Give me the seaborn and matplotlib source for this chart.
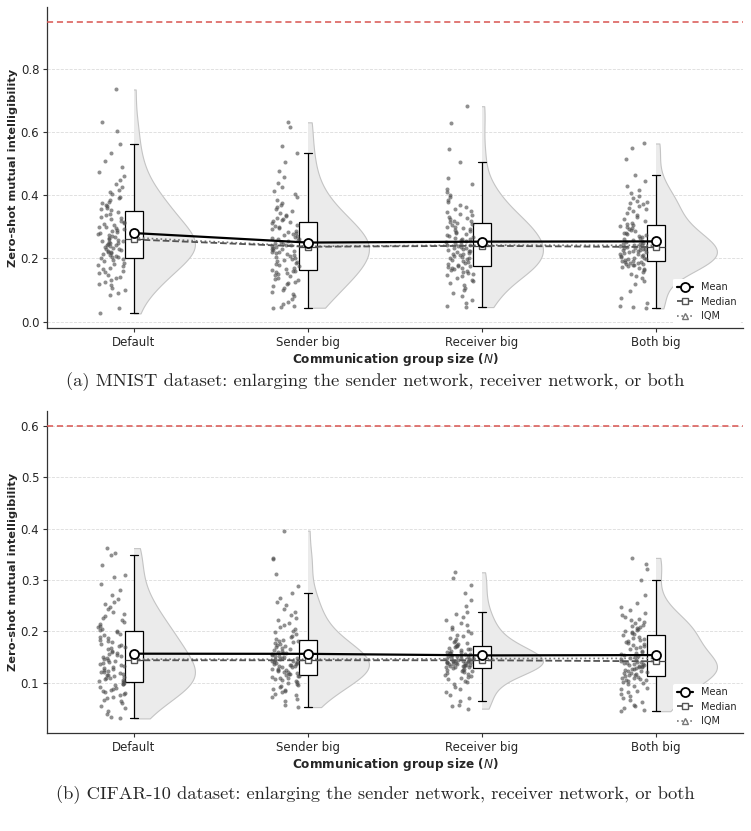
import numpy as np
import pandas as pd
import matplotlib
matplotlib.use("Agg")
import matplotlib.pyplot as plt
from matplotlib.lines import Line2D
from matplotlib.patches import Rectangle
import seaborn as sns

groups = ["Default", "Sender big", "Receiver big", "Both big"]

# MNIST (sorted estimates)
mnist_default = [0.026, 0.042, 0.083, 0.092, 0.101, 0.108, 0.115, 0.118, 0.124, 0.131, 0.137, 0.142, 0.148,
                 0.153, 0.157, 0.161, 0.166, 0.171, 0.175, 0.179, 0.183, 0.187, 0.191, 0.195, 0.199,
                 0.201, 0.204, 0.206, 0.209, 0.212, 0.214, 0.217, 0.219, 0.222, 0.224, 0.226, 0.229, 0.231,
                 0.234, 0.236, 0.238, 0.241, 0.243, 0.245, 0.248, 0.250, 0.252, 0.254, 0.256, 0.258,
                 0.262, 0.265, 0.268, 0.271, 0.274, 0.277, 0.280, 0.283, 0.286, 0.289, 0.292, 0.295, 0.298,
                 0.301, 0.305, 0.309, 0.312, 0.316, 0.320, 0.324, 0.328, 0.332, 0.337, 0.342, 0.348,
                 0.352, 0.356, 0.361, 0.365, 0.370, 0.374, 0.379, 0.384, 0.390, 0.396, 0.403, 0.410, 0.418,
                 0.427, 0.437, 0.448, 0.460, 0.474, 0.490, 0.510, 0.535, 0.561, 0.603, 0.632, 0.735]
mnist_sender = [0.044, 0.047, 0.050, 0.055, 0.062, 0.071, 0.080, 0.088, 0.095, 0.101, 0.107, 0.112, 0.118,
                0.123, 0.127, 0.131, 0.135, 0.139, 0.143, 0.147, 0.150, 0.153, 0.156, 0.159, 0.161,
                0.163, 0.167, 0.171, 0.175, 0.179, 0.182, 0.186, 0.189, 0.192, 0.196, 0.199, 0.202, 0.205,
                0.208, 0.211, 0.214, 0.217, 0.220, 0.222, 0.225, 0.227, 0.229, 0.231, 0.233, 0.235,
                0.239, 0.241, 0.244, 0.246, 0.249, 0.251, 0.254, 0.257, 0.260, 0.263, 0.266, 0.269, 0.272,
                0.275, 0.278, 0.281, 0.285, 0.288, 0.292, 0.295, 0.299, 0.303, 0.307, 0.311, 0.315,
                0.317, 0.321, 0.325, 0.329, 0.334, 0.339, 0.344, 0.350, 0.356, 0.362, 0.369, 0.376, 0.384,
                0.393, 0.403, 0.414, 0.426, 0.440, 0.458, 0.478, 0.505, 0.533, 0.557, 0.617, 0.631]
mnist_receiver = [0.046, 0.050, 0.058, 0.069, 0.080, 0.091, 0.100, 0.108, 0.115, 0.122, 0.128, 0.133, 0.138,
                  0.143, 0.147, 0.151, 0.155, 0.158, 0.161, 0.164, 0.167, 0.169, 0.171, 0.173, 0.175,
                  0.177, 0.180, 0.183, 0.186, 0.189, 0.192, 0.195, 0.197, 0.200, 0.203, 0.205, 0.208, 0.210,
                  0.213, 0.215, 0.218, 0.220, 0.223, 0.225, 0.227, 0.230, 0.232, 0.234, 0.236, 0.238,
                  0.242, 0.244, 0.247, 0.249, 0.252, 0.254, 0.257, 0.260, 0.262, 0.265, 0.268, 0.271, 0.274,
                  0.277, 0.280, 0.283, 0.286, 0.289, 0.292, 0.295, 0.298, 0.301, 0.305, 0.308, 0.312,
                  0.314, 0.317, 0.320, 0.324, 0.328, 0.332, 0.336, 0.341, 0.346, 0.351, 0.357, 0.363, 0.370,
                  0.378, 0.386, 0.395, 0.400, 0.410, 0.420, 0.435, 0.455, 0.505, 0.547, 0.629, 0.682]
mnist_both = [0.042, 0.045, 0.050, 0.058, 0.075, 0.098, 0.118, 0.130, 0.139, 0.146, 0.152, 0.157, 0.162,
              0.166, 0.170, 0.173, 0.176, 0.178, 0.180, 0.182, 0.184, 0.186, 0.187, 0.188, 0.189,
              0.191, 0.193, 0.195, 0.197, 0.199, 0.201, 0.203, 0.205, 0.207, 0.209, 0.211, 0.213, 0.215,
              0.217, 0.219, 0.221, 0.223, 0.225, 0.226, 0.228, 0.229, 0.231, 0.232, 0.234, 0.235,
              0.237, 0.239, 0.241, 0.243, 0.245, 0.247, 0.250, 0.252, 0.255, 0.258, 0.261, 0.264, 0.267,
              0.270, 0.273, 0.276, 0.279, 0.282, 0.286, 0.289, 0.292, 0.295, 0.299, 0.302, 0.306,
              0.308, 0.312, 0.318, 0.324, 0.331, 0.338, 0.344, 0.350, 0.356, 0.361, 0.366, 0.371, 0.377,
              0.379, 0.383, 0.390, 0.398, 0.407, 0.418, 0.430, 0.445, 0.463, 0.516, 0.551, 0.564]

# CIFAR-10
cifar_default = [0.031, 0.034, 0.040, 0.046, 0.052, 0.056, 0.060, 0.064, 0.067, 0.070, 0.073, 0.076, 0.079,
                 0.081, 0.083, 0.085, 0.087, 0.089, 0.091, 0.093, 0.095, 0.097, 0.098, 0.100, 0.101,
                 0.103, 0.104, 0.106, 0.107, 0.109, 0.110, 0.112, 0.113, 0.115, 0.116, 0.118, 0.119, 0.121,
                 0.122, 0.124, 0.126, 0.127, 0.129, 0.131, 0.133, 0.135, 0.137, 0.139, 0.141, 0.143,
                 0.145, 0.147, 0.149, 0.151, 0.153, 0.155, 0.157, 0.159, 0.161, 0.163, 0.165, 0.167, 0.169,
                 0.171, 0.174, 0.176, 0.179, 0.181, 0.184, 0.187, 0.190, 0.193, 0.195, 0.198, 0.201,
                 0.203, 0.205, 0.208, 0.211, 0.214, 0.218, 0.222, 0.226, 0.230, 0.234, 0.238, 0.243, 0.248,
                 0.253, 0.258, 0.264, 0.270, 0.280, 0.292, 0.305, 0.310, 0.330, 0.348, 0.352, 0.362]
cifar_sender = [0.053, 0.058, 0.064, 0.068, 0.072, 0.076, 0.079, 0.082, 0.085, 0.087, 0.089, 0.092, 0.094,
                0.096, 0.098, 0.100, 0.102, 0.104, 0.106, 0.107, 0.109, 0.110, 0.112, 0.113, 0.114,
                0.116, 0.117, 0.118, 0.120, 0.121, 0.122, 0.123, 0.125, 0.126, 0.127, 0.128, 0.130, 0.131,
                0.132, 0.133, 0.134, 0.135, 0.136, 0.137, 0.138, 0.139, 0.140, 0.141, 0.142, 0.143,
                0.145, 0.146, 0.147, 0.148, 0.149, 0.151, 0.152, 0.153, 0.155, 0.156, 0.158, 0.159, 0.161,
                0.162, 0.164, 0.166, 0.167, 0.169, 0.171, 0.173, 0.175, 0.177, 0.179, 0.181, 0.182,
                0.184, 0.186, 0.189, 0.192, 0.195, 0.198, 0.201, 0.205, 0.209, 0.213, 0.217, 0.222, 0.227,
                0.232, 0.238, 0.244, 0.251, 0.258, 0.266, 0.274, 0.288, 0.312, 0.341, 0.343, 0.396]
cifar_receiver = [0.050, 0.055, 0.058, 0.064, 0.070, 0.077, 0.083, 0.088, 0.093, 0.097, 0.101, 0.104, 0.107,
                  0.110, 0.112, 0.114, 0.116, 0.118, 0.120, 0.121, 0.123, 0.124, 0.125, 0.126, 0.127,
                  0.129, 0.130, 0.130, 0.131, 0.132, 0.133, 0.133, 0.134, 0.135, 0.135, 0.136, 0.137, 0.137,
                  0.138, 0.139, 0.139, 0.140, 0.140, 0.141, 0.141, 0.142, 0.142, 0.143, 0.143, 0.143,
                  0.145, 0.146, 0.147, 0.148, 0.149, 0.150, 0.151, 0.152, 0.153, 0.154, 0.155, 0.156, 0.157,
                  0.158, 0.159, 0.160, 0.161, 0.162, 0.164, 0.165, 0.166, 0.168, 0.169, 0.171, 0.172,
                  0.174, 0.176, 0.178, 0.180, 0.182, 0.185, 0.188, 0.191, 0.194, 0.197, 0.200, 0.204, 0.208,
                  0.212, 0.217, 0.222, 0.228, 0.234, 0.238, 0.250, 0.262, 0.275, 0.291, 0.304, 0.315]
cifar_both = [0.045, 0.048, 0.051, 0.055, 0.058, 0.062, 0.066, 0.070, 0.074, 0.078, 0.082, 0.085, 0.088,
              0.091, 0.094, 0.097, 0.099, 0.101, 0.103, 0.105, 0.106, 0.108, 0.109, 0.110, 0.111,
              0.113, 0.115, 0.116, 0.118, 0.119, 0.120, 0.122, 0.123, 0.124, 0.126, 0.127, 0.128, 0.129,
              0.130, 0.131, 0.132, 0.133, 0.134, 0.135, 0.136, 0.137, 0.138, 0.139, 0.140, 0.141,
              0.143, 0.145, 0.147, 0.149, 0.151, 0.153, 0.155, 0.157, 0.159, 0.161, 0.163, 0.165, 0.167,
              0.169, 0.171, 0.173, 0.175, 0.177, 0.179, 0.181, 0.183, 0.186, 0.188, 0.190, 0.193,
              0.195, 0.197, 0.199, 0.201, 0.203, 0.205, 0.207, 0.209, 0.211, 0.213, 0.216, 0.219, 0.222,
              0.225, 0.228, 0.232, 0.236, 0.241, 0.247, 0.256, 0.270, 0.301, 0.322, 0.332, 0.343]

mnist_ref = 0.95
cifar_ref = 0.60

captions = ["(a) MNIST dataset: enlarging the sender network, receiver network, or both",
            "(b) CIFAR-10 dataset: enlarging the sender network, receiver network, or both"]


def make_df(cols):
    rows = []
    for g, vals in zip(groups, cols):
        for v in vals:
            rows.append((g, v))
    return pd.DataFrame(rows, columns=["group", "score"])


def iqm(v):
    v = np.sort(np.asarray(v))
    k = int(len(v) * 0.25)
    return v[k:len(v) - k].mean()


sns.set_style("ticks")
plt.rcParams["font.family"] = ["DejaVu Sans"]
np.random.seed(7)

fig = plt.figure(figsize=(7.51, 8.31), dpi=100)
ax_a = fig.add_axes([0.0626, 0.6053, 0.9268, 0.3863])
ax_b = fig.add_axes([0.0626, 0.1179, 0.9268, 0.3875])

panels = [
    (ax_a, make_df([mnist_default, mnist_sender, mnist_receiver, mnist_both]), mnist_ref,
     (-0.0202, 0.9962), np.arange(0, 0.81, 0.2)),
    (ax_b, make_df([cifar_default, cifar_sender, cifar_receiver, cifar_both]), cifar_ref,
     (0.0026, 0.6285), np.arange(0.1, 0.61, 0.1)),
]

for ax, df, ref, ylim, yticks in panels:
    ax.yaxis.grid(True, ls="--", color="#dcdcdc", lw=0.6)
    ax.set_axisbelow(True)

    # full violin, then keep only the right half
    n0 = len(ax.collections)
    sns.violinplot(data=df, x="group", y="score", order=groups, inner=None, cut=0,
                   density_norm="width", width=0.7, color="#ebebeb", saturation=1,
                   linecolor="#c4c4c4", linewidth=0.8, ax=ax)
    for i, coll in enumerate(ax.collections[n0:]):
        coll.set_clip_path(Rectangle((i, -1), 0.6, 3, transform=ax.transData))

    sns.boxplot(data=df, x="group", y="score", order=groups, width=0.1, showfliers=False,
                color="white", linecolor="black", linewidth=0.9, saturation=1,
                medianprops=dict(color="#444444"), ax=ax)

    n0 = len(ax.collections)
    sns.stripplot(data=df, x="group", y="score", order=groups, jitter=0.08, size=2.9,
                  color="#4a4a4a", alpha=0.62, linewidth=0, ax=ax)
    for coll in ax.collections[n0:]:
        coll.set_offsets(coll.get_offsets() + np.array([-0.13, 0.0]))

    sns.pointplot(data=df, x="group", y="score", order=groups, estimator=iqm, errorbar=None,
                  color="#777777", markers="^", linestyles=":", linewidth=1.2, markersize=5,
                  markerfacecolor="white", markeredgewidth=1.0, zorder=5, ax=ax)
    sns.pointplot(data=df, x="group", y="score", order=groups, estimator="median", errorbar=None,
                  color="#555555", markers="s", linestyles="--", linewidth=1.3, markersize=5,
                  markerfacecolor="white", markeredgewidth=1.0, zorder=6, ax=ax)
    sns.pointplot(data=df, x="group", y="score", order=groups, estimator="mean", errorbar=None,
                  color="black", markers="o", linestyles="-", linewidth=1.6, markersize=6.5,
                  markerfacecolor="white", markeredgewidth=1.3, zorder=7, ax=ax)

    ax.axhline(ref, color="#d9534f", ls=(0, (4, 2.5)), lw=1.1, zorder=3)

    ax.set_xlim(-0.5, 3.5)
    ax.set_ylim(*ylim)
    ax.set_yticks(yticks)
    ax.set_yticklabels([f"{t:.1f}" for t in yticks])
    ax.tick_params(axis="both", labelsize=8.5, length=3, width=0.8, pad=2.5, color="#333333")
    ax.set_ylabel("Zero-shot mutual intelligibility", fontsize=8.2, fontweight="bold", labelpad=2)
    ax.set_xlabel("Communication group size ($N$)", fontsize=8.7, fontweight="bold", labelpad=1.5)
    sns.despine(ax=ax)
    for s in ["left", "bottom"]:
        ax.spines[s].set_color("#333333")
        ax.spines[s].set_linewidth(0.9)

    handles = [
        Line2D([], [], color="black", ls="-", lw=1.6, marker="o", ms=6.5, mfc="white", mew=1.3),
        Line2D([], [], color="#555555", ls="--", lw=1.3, marker="s", ms=5, mfc="white", mew=1.0),
        Line2D([], [], color="#777777", ls=":", lw=1.2, marker="^", ms=5, mfc="white", mew=1.0),
    ]
    leg = ax.legend(handles, ["Mean", "Median", "IQM"], loc="lower right", fontsize=7,
                    frameon=True, framealpha=1, facecolor="white", edgecolor="none",
                    handlelength=1.6, handletextpad=0.8, labelspacing=0.45, borderpad=0.4,
                    borderaxespad=0.3)
    leg.set_zorder(10)

fig.text(0.5, 1 - 382 / 831, captions[0], ha="center", va="center", family="cmr10", fontsize=13.4)
fig.text(0.5, 1 - 795 / 831, captions[1], ha="center", va="center", family="cmr10", fontsize=13.3)

fig.savefig("out.png", dpi=100)
